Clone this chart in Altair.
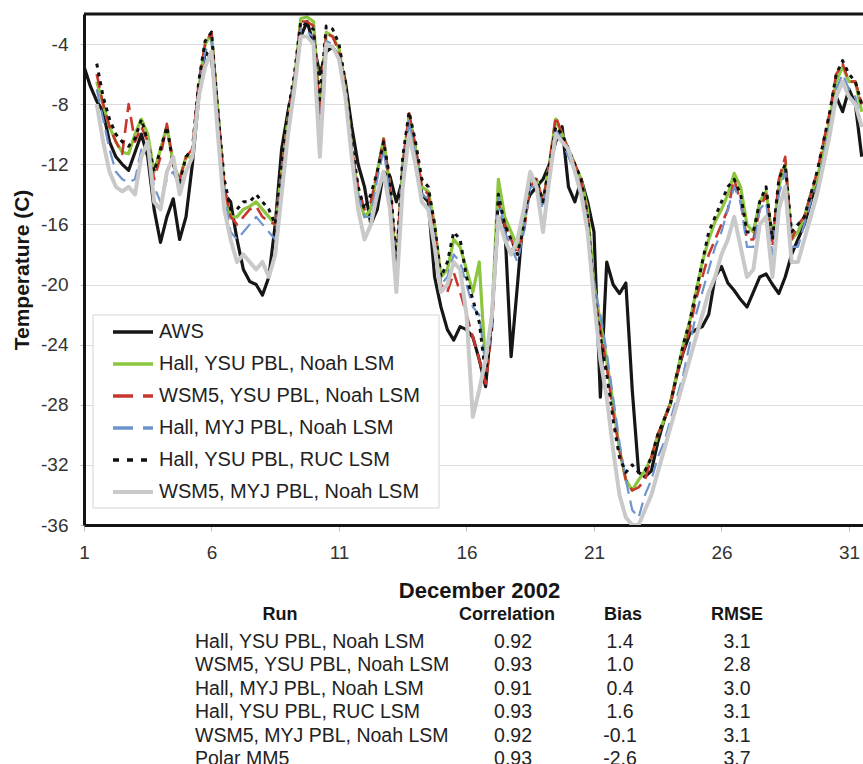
import altair as alt
import pandas as pd

FONT = "Liberation Sans"
MINUS = "\u2212"

# Time axis: days of December 2002, 6-hourly
days = [round(1 + 0.25 * i, 2) for i in range(123)]

# each line of values covers two days (8 six-hourly values)
aws = [-5.5, -6.8, -7.8, -8.5, -10.5, -11.5, -12.0, -12.4,
       -11.2, -10.0, -11.5, -15.0, -17.2, -15.5, -14.3, -17.0,
       -15.5, -12.0, -7.5, -4.5, -5.0, -8.5, -14.0, -14.5,
       -17.0, -19.0, -19.8, -20.0, -20.7, -19.5, -16.0, -11.0,
       -8.5, -6.5, -3.5, -2.5, -4.0, -6.0, -4.5, -4.2,
       -4.8, -6.5, -9.5, -12.0, -13.5, -16.0, -15.0, -12.5,
       -12.8, -14.5, -13.0, -8.8, -11.0, -14.0, -14.5, -19.5,
       -21.5, -23.0, -23.7, -22.8, -23.0, -23.5, -25.0, -26.8,
       -22.0, -15.5, -16.0, -24.8, -20.0, -15.0, -14.0, -13.5,
       -13.0, -12.0, -10.5, -9.5, -13.5, -14.5, -13.0, -14.5,
       -16.5, -27.5, -18.5, -20.0, -20.6, -19.9, -27.0, -32.5,
       -32.8, -32.4, -30.5, -29.0, -27.9, -26.0, -24.5, -23.3,
       -23.0, -22.8, -22.0, -19.5, -18.8, -19.9, -20.4, -21.0,
       -21.5, -20.5, -19.5, -19.3, -20.0, -20.6, -19.5, -18.0,
       -17.0, -16.0, -14.5, -13.0, -11.5, -9.5, -7.5, -8.5,
       -7.0, -8.0, -11.5]

hall_ysu_noah = [None, None, -6.5, -8.0, -9.5, -10.5, -11.2, -11.3,
                 -10.0, -9.0, -10.0, -12.5, -11.0, -9.5, -12.0, -13.0,
                 -11.5, -11.5, -7.0, -4.0, -3.3, -8.5, -13.5, -15.5,
                 -15.5, -15.0, -14.8, -14.5, -15.0, -15.5, -16.0, -12.5,
                 -9.0, -6.5, -2.3, -2.2, -2.5, -8.5, -3.2, -3.5,
                 -4.3, -7.0, -11.0, -14.0, -15.5, -15.0, -12.5, -10.3,
                 -13.5, -19.0, -12.0, -8.8, -11.0, -13.5, -13.8, -16.0,
                 -19.5, -19.0, -17.0, -17.5, -19.0, -20.5, -18.5, -25.5,
                 -22.0, -13.0, -15.5, -16.5, -17.5, -16.0, -13.0, -13.0,
                 -14.5, -12.0, -9.0, -10.0, -11.0, -12.0, -13.0, -15.0,
                 -20.0, -22.5, -25.0, -28.0, -31.0, -33.0, -33.7, -33.0,
                 -32.4, -31.5, -30.0, -29.0, -27.9, -26.0, -24.0, -22.5,
                 -20.5, -18.5, -17.0, -15.8, -15.0, -14.0, -12.6, -13.5,
                 -16.0, -16.5, -14.5, -13.8, -17.0, -13.5, -12.0, -17.0,
                 -16.5, -15.5, -14.0, -13.0, -11.0, -9.0, -6.5, -5.5,
                 -6.5, -6.5, -8.5]

wsm5_ysu_noah = [None, None, -6.0, -8.0, -9.5, -10.5, -11.3, -8.0,
                 -10.5, -9.5, -10.5, -13.0, -11.5, -9.3, -12.0, -13.0,
                 -11.5, -11.0, -6.5, -4.0, -3.2, -8.5, -13.5, -15.5,
                 -16.0, -15.5, -15.0, -14.8, -15.5, -15.8, -16.0, -12.5,
                 -9.0, -6.5, -2.5, -2.5, -2.8, -8.8, -3.3, -3.5,
                 -4.5, -7.0, -11.0, -13.5, -15.0, -14.5, -12.5, -10.3,
                 -13.5, -18.5, -12.0, -8.6, -10.8, -13.5, -14.0, -16.5,
                 -20.0, -20.5, -19.2, -20.5, -22.0, -23.5, -25.0, -26.6,
                 -23.0, -14.5, -16.0, -17.0, -18.0, -16.5, -13.5, -13.0,
                 -14.5, -12.0, -8.8, -10.0, -11.0, -12.0, -13.0, -15.5,
                 -20.5, -23.0, -25.5, -28.5, -31.0, -33.0, -33.7, -33.5,
                 -33.0, -31.5, -30.0, -29.0, -27.9, -26.0, -24.5, -23.0,
                 -21.0, -19.5, -18.0, -17.0, -16.0, -15.0, -13.0, -14.5,
                 -17.0, -17.0, -15.0, -14.0, -17.5, -13.0, -11.5, -17.0,
                 -16.0, -15.5, -14.0, -12.5, -10.5, -8.5, -6.0, -5.3,
                 -6.5, -6.5, -8.0]

hall_myj_noah = [None, None, -7.0, -9.0, -11.0, -12.5, -13.0, -13.2,
                 -13.0, -11.0, -11.0, -13.5, -14.5, -13.0, -12.5, -13.5,
                 -12.5, -11.5, -7.0, -4.5, -3.8, -9.0, -14.0, -16.5,
                 -17.0, -16.5, -16.0, -15.5, -16.0, -16.5, -17.0, -13.0,
                 -9.5, -7.0, -3.0, -3.2, -3.5, -10.0, -3.8, -4.0,
                 -5.0, -7.5, -11.5, -14.0, -15.5, -15.5, -13.0, -11.0,
                 -14.0, -19.0, -12.5, -9.0, -11.5, -14.0, -14.3, -17.0,
                 -20.0, -19.5, -18.0, -18.5, -20.0, -21.5, -22.0, -25.5,
                 -23.0, -14.0, -16.5, -17.5, -18.5, -16.5, -13.5, -13.5,
                 -15.0, -12.5, -9.5, -10.5, -11.5, -12.5, -13.5, -16.0,
                 -20.0, -22.0, -24.5, -27.5, -30.5, -33.0, -35.0, -35.5,
                 -34.0, -33.0, -31.5, -30.5, -29.0, -27.5, -26.0, -24.0,
                 -22.0, -20.5, -19.0, -17.5, -16.5, -15.0, -13.5, -14.5,
                 -17.5, -17.5, -15.0, -14.5, -18.0, -14.0, -12.5, -17.5,
                 -17.5, -16.0, -14.5, -13.5, -11.5, -9.5, -7.0, -6.0,
                 -7.0, -7.5, -9.5]

hall_ysu_ruc = [None, None, -5.3, -7.5, -9.0, -10.0, -10.5, -10.8,
                -10.3, -9.0, -10.5, -12.5, -11.0, -9.5, -12.0, -13.2,
                -11.5, -11.0, -6.5, -3.8, -3.2, -8.5, -13.0, -15.0,
                -15.0, -14.5, -14.5, -14.0, -14.5, -15.0, -16.0, -12.0,
                -8.5, -6.0, -2.5, -2.8, -3.0, -7.7, -2.8, -3.0,
                -4.0, -6.5, -10.5, -13.5, -15.0, -14.0, -12.5, -10.5,
                -13.0, -18.5, -11.5, -8.5, -10.5, -13.0, -13.5, -16.0,
                -19.5, -18.5, -16.5, -17.0, -19.5, -21.0, -22.5, -26.0,
                -22.5, -14.0, -16.0, -17.0, -18.0, -16.0, -13.0, -13.0,
                -14.5, -12.0, -9.5, -10.0, -11.0, -12.0, -13.0, -15.5,
                -20.5, -23.5, -26.0, -29.0, -31.5, -32.5, -32.0, -32.5,
                -32.4, -31.5, -30.0, -29.0, -27.9, -26.0, -24.0, -22.5,
                -20.5, -18.5, -16.5, -15.5, -14.5, -13.5, -13.0, -14.0,
                -16.5, -16.5, -14.5, -13.5, -17.0, -13.0, -12.0, -16.5,
                -16.0, -15.5, -14.0, -12.5, -10.5, -8.5, -6.0, -5.1,
                -6.0, -6.5, -8.0]

wsm5_myj_noah = [None, None, -8.0, -10.5, -12.5, -13.5, -13.8, -13.5,
                 -14.0, -11.5, -10.5, -14.5, -15.0, -12.5, -11.5, -14.0,
                 -12.5, -11.5, -7.5, -5.5, -4.5, -10.0, -15.0, -17.0,
                 -18.5, -18.0, -18.5, -19.0, -18.5, -19.5, -18.0, -14.0,
                 -10.0, -7.0, -3.5, -3.5, -4.0, -11.5, -4.0, -4.2,
                 -5.0, -7.5, -11.5, -15.0, -17.0, -16.0, -14.0, -12.5,
                 -15.0, -20.5, -13.5, -10.0, -12.0, -14.5, -15.0, -17.5,
                 -20.5, -20.0, -18.5, -19.0, -22.0, -28.8, -27.0, -25.0,
                 -22.0, -15.5, -17.0, -18.0, -17.0, -15.0, -12.5, -13.5,
                 -16.5, -13.0, -10.0, -10.5, -11.0, -12.5, -14.0, -16.5,
                 -21.0, -25.0, -27.5, -31.0, -34.0, -35.5, -36.0, -36.0,
                 -35.0, -34.0, -32.5, -31.0, -29.5, -28.0, -26.5, -25.0,
                 -23.5, -22.0, -20.5, -19.5, -18.0, -17.0, -15.5, -17.5,
                 -19.5, -19.0, -16.0, -15.5, -19.5, -15.0, -13.5, -18.5,
                 -18.5, -17.0, -15.5, -14.0, -12.0, -10.0, -7.5, -6.5,
                 -7.5, -8.0, -9.5]

# Summary statistics table
runs = ["Hall, YSU PBL, Noah LSM", "WSM5, YSU PBL, Noah LSM", "Hall, MYJ PBL, Noah LSM",
        "Hall, YSU PBL, RUC LSM", "WSM5, MYJ PBL, Noah LSM", "Polar MM5"]
correlation = [0.92, 0.93, 0.91, 0.93, 0.92, 0.93]
bias = [1.4, 1.0, 0.4, 1.6, -0.1, -2.6]
rmse = [3.1, 2.8, 3.0, 3.1, 3.1, 3.7]

series_names = ["AWS", "Hall, YSU PBL, Noah LSM", "WSM5, YSU PBL, Noah LSM",
                "Hall, MYJ PBL, Noah LSM", "Hall, YSU PBL, RUC LSM", "WSM5, MYJ PBL, Noah LSM"]
series_values = [aws, hall_ysu_noah, wsm5_ysu_noah, hall_myj_noah, hall_ysu_ruc, wsm5_myj_noah]

# line style per series: colour, dash, width
styles = [
    ("#161616", None, 3.2),
    ("#8cc63e", None, 3.2),
    ("#c8372d", [14, 7], 2.6),
    ("#6d94cc", [14, 7], 2.2),
    ("#111111", [4, 5], 3.0),
    ("#c9c9c9", None, 4.0),
]

W, H = 779, 511
hyphen_labels = f"replace(datum.label, '{MINUS}', '-')"

x_enc = alt.X(
    "day:Q",
    scale=alt.Scale(domain=[1, 31.55], nice=False, zero=False),
    axis=alt.Axis(
        values=[1, 6, 11, 16, 21, 26, 31], format="d", grid=False,
        domainColor="#141414", domainWidth=3, tickColor="#bdbdbd", tickSize=6, tickWidth=1,
        labelFont=FONT, labelFontSize=19, labelColor="#333333", labelPadding=12,
        labelFlush=False, labelOverlap=False,
        title="December 2002", titleFont=FONT, titleFontSize=22, titleFontWeight="bold",
        titleColor="#161616", titleX=395, titleY=65, titleBaseline="middle",
    ),
)
y_enc = alt.Y(
    "temp:Q",
    scale=alt.Scale(domain=[-36, -2], nice=False, zero=False),
    axis=alt.Axis(
        values=[-36, -32, -28, -24, -20, -16, -12, -8, -4], grid=True,
        gridColor="#dcdcdc", gridWidth=1, labelExpr=hyphen_labels,
        domainColor="#141414", domainWidth=3, tickColor="#bdbdbd", tickSize=4, tickWidth=1,
        labelFont=FONT, labelFontSize=19, labelColor="#333333", labelPadding=12,
        title="Temperature (C)", titleFont=FONT, titleFontSize=21, titleFontWeight="bold",
        titleColor="#161616", titleX=-62, titleY=H / 2, titleBaseline="middle", titleAngle=270,
    ),
)

line_layers = []
for name, vals, (col, dash, width) in zip(series_names, series_values, styles):
    df = pd.DataFrame({"day": days, "temp": vals}).dropna()
    props = dict(color=col, strokeWidth=width, clip=True, strokeJoin="round", strokeCap="butt")
    if dash:
        props["strokeDash"] = dash
    line_layers.append(alt.Chart(df).mark_line(**props).encode(x=x_enc, y=y_enc))

# top edge of the plot frame
frame_top = alt.Chart(pd.DataFrame({"edge": [0]})).mark_rule(color="#141414", strokeWidth=3).encode(
    x=alt.value(0), x2=alt.value(W), y=alt.value(0)
)
plot_group = alt.layer(*line_layers, frame_top)

# Legend drawn inside the plot area
legend_scale = alt.Scale(type="point", domain=series_names, range=[318, 478], padding=0)
legend_box = alt.Chart(pd.DataFrame({"box": [0]})).mark_rect(
    fill="white", stroke="#d4d4d4", strokeWidth=1
).encode(x=alt.value(9), x2=alt.value(355), y=alt.value(301), y2=alt.value(494))
legend_layers = [legend_box]
for name, (col, dash, width) in zip(series_names, styles):
    props = dict(color=col, strokeWidth=max(width, 3.5), strokeCap="butt")
    if dash:
        props["strokeDash"] = [20, 10] if dash[0] > 10 else [6, 8]
    legend_layers.append(
        alt.Chart(pd.DataFrame({"label": [name]})).mark_rule(**props).encode(
            y=alt.Y("label:N", scale=legend_scale, axis=None),
            x=alt.value(29), x2=alt.value(69),
        )
    )
legend_layers.append(
    alt.Chart(pd.DataFrame({"label": series_names})).mark_text(
        align="left", baseline="middle", font=FONT, fontSize=20, color="#222222"
    ).encode(y=alt.Y("label:N", scale=legend_scale, axis=None), x=alt.value(75), text="label:N")
)
legend_group = alt.layer(*legend_layers)

# Statistics table under the x axis
table_df = pd.DataFrame({"run": runs, "corr": correlation, "bias": bias, "rmse": rmse})
row_scale = alt.Scale(type="point", domain=runs, range=[628, 745], padding=0)
row_y = alt.Y("run:N", scale=row_scale, axis=None)
cell = dict(baseline="middle", font=FONT, fontSize=19.5, color="#222222")
head = dict(baseline="middle", font=FONT, fontSize=18, fontWeight="bold", color="#161616", align="center")
headers = pd.DataFrame({"h": ["Run", "Correlation", "Bias", "RMSE"]})
table_base = alt.Chart(table_df).transform_calculate(
    corr_txt="format(datum.corr, '.2f')",
    bias_txt=f"replace(format(datum.bias, '.1f'), '{MINUS}', '-')",
    rmse_txt="format(datum.rmse, '.1f')",
)
table_group = alt.layer(
    table_base.mark_text(align="left", **cell).encode(y=row_y, x=alt.value(111), text="run:N"),
    table_base.mark_text(align="center", **cell).encode(y=row_y, x=alt.value(429), text="corr_txt:N"),
    table_base.mark_text(align="center", **cell).encode(y=row_y, x=alt.value(536), text="bias_txt:N"),
    table_base.mark_text(align="center", **cell).encode(y=row_y, x=alt.value(653), text="rmse_txt:N"),
    alt.Chart(headers.iloc[[0]]).mark_text(**head).encode(x=alt.value(196), y=alt.value(601), text="h:N"),
    alt.Chart(headers.iloc[[1]]).mark_text(**head).encode(x=alt.value(423), y=alt.value(601), text="h:N"),
    alt.Chart(headers.iloc[[2]]).mark_text(**head).encode(x=alt.value(539), y=alt.value(601), text="h:N"),
    alt.Chart(headers.iloc[[3]]).mark_text(**head).encode(x=alt.value(653), y=alt.value(601), text="h:N"),
)

chart = alt.layer(plot_group, legend_group, table_group).resolve_scale(y="independent").properties(
    width=W, height=H,
    autosize=alt.AutoSizeParams(type="none"),
    padding={"left": 84, "top": 14, "right": 0, "bottom": 764 - 14 - H},
    background="white",
).configure_view(stroke=None)

chart.save("out.html", embed_options={"renderer": "svg", "actions": False})
